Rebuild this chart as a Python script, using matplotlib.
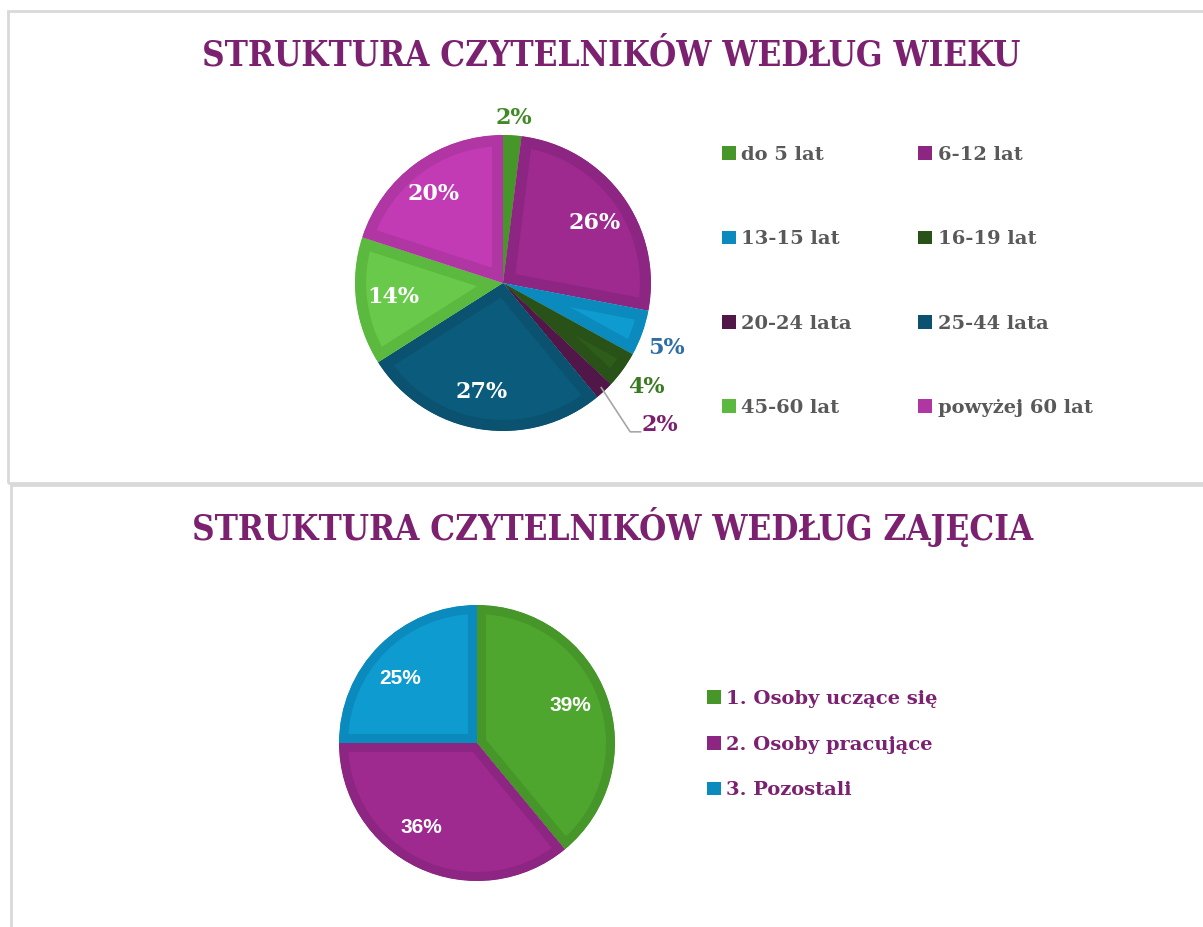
import numpy as np
import matplotlib
matplotlib.use("Agg")
import matplotlib.pyplot as plt
from matplotlib.patches import Patch, Rectangle
from matplotlib.lines import Line2D

# data
age_groups = ['do 5 lat', '6-12 lat', '13-15 lat', '16-19 lat',
              '20-24 lata', '25-44 lata', '45-60 lat', 'powyżej 60 lat']
age_shares = [2, 26, 5, 4, 2, 27, 14, 20]

job_groups = ['1. Osoby uczące się', '2. Osoby pracujące', '3. Pozostali']
job_shares = [39, 36, 25]

# colours
age_faces = ['#4fa62e', '#9e2a8f', '#0e9bd0', '#2d5c1b',
             '#5b1a52', '#0b5c7c', '#68c94a', '#c23bb4']
age_borders = ['#46962a', '#8c2682', '#0b8bbd', '#285218',
               '#511749', '#0a5270', '#5cb940', '#b036a4']
job_faces = ['#4fa62e', '#9e2a8f', '#0e9bd0']
job_borders = ['#46962a', '#8c2682', '#0b8bbd']

TITLE_COL = '#7b2170'
W, H = 1203, 927

fig = plt.figure(figsize=(W / 100, H / 100), dpi=100)
fig.patch.set_facecolor('white')

# panel frames
fig.patches.append(Rectangle((8 / W, (H - 483) / H), 1.05, (483 - 11) / H,
                             transform=fig.transFigure, fill=False,
                             edgecolor='#d9d9d9', linewidth=2))
fig.patches.append(Rectangle((10.5 / W, -0.01), 1.05, (H - 485) / H + 0.01,
                             transform=fig.transFigure, fill=False,
                             edgecolor='#d9d9d9', linewidth=2))


def pie_axes(cx, cy, r):
    return fig.add_axes([(cx - r) / W, (H - cy - r) / H, 2 * r / W, 2 * r / H])


def draw_pie(ax, shares, faces, borders, lw):
    wedges, _ = ax.pie(shares, colors=faces, startangle=90, counterclock=False,
                       wedgeprops=dict(edgecolor='none'))
    # inner border: stroke each wedge, clipped to itself
    for w, b in zip(wedges, borders):
        w.set_edgecolor(b)
        w.set_linewidth(lw)
        w.set_clip_on(True)
        w.set_clip_path(w)
    ax.set_xlim(-1, 1)
    ax.set_ylim(-1, 1)
    return wedges


def mid_xy(w, dist, shift=0):
    ang = np.deg2rad((w.theta1 + w.theta2) / 2 + shift)
    return dist * np.cos(ang), dist * np.sin(ang)


serif = 'DejaVu Serif'

# ---- top chart: age ----
fig.text(0.508, (H - 55) / H, 'STRUKTURA CZYTELNIKÓW WEDŁUG WIEKU', ha='center', va='center',
         fontsize=25, fontweight='bold', family=serif, fontstretch='condensed',
         color=TITLE_COL)

ax1 = pie_axes(503, 283, 148)
wedges1 = draw_pie(ax1, age_shares, age_faces, age_borders, 16)

lab_dist = [1.12, 0.74, 1.19, 1.2, 1.43, 0.75, 0.75, 0.76]
lab_shift = [0, -3, -2, 0, 4.6, -2, 0, 2]
lab_cols = ['#3f8a25', 'white', '#2f6ea5', '#3a7a23', '#7b1f6e', 'white', 'white', 'white']
for w, v, d, s, c in zip(wedges1, age_shares, lab_dist, lab_shift, lab_cols):
    x, y = mid_xy(w, d, s)
    if d > 1.3:
        x0, y0 = mid_xy(w, 0.97)
        ax1.add_line(Line2D([x0, x - 0.2, x - 0.13], [y0, y - 0.045, y - 0.045],
                            color='#a6a6a6', lw=1.2, clip_on=False))
    ax1.text(x, y, f'{v}%', ha='center', va='center', fontsize=16,
             fontweight='bold', family=serif, color=c)

# legend laid out row by row in two columns
order = [0, 2, 4, 6, 1, 3, 5, 7]
handles1 = [Patch(facecolor=age_borders[i], edgecolor='none') for i in order]
fig.legend(handles1, [age_groups[i] for i in order], ncol=2, frameon=False,
           loc='upper left', bbox_to_anchor=(722 / W, (H - 146) / H),
           borderpad=0, borderaxespad=0, handlelength=0.7, handleheight=0.7,
           handletextpad=0.3, labelspacing=3.41, columnspacing=3.4,
           prop=dict(family=serif, weight='bold', size=14), labelcolor='#595959')

# ---- bottom chart: occupation ----
fig.text(0.509, (H - 527) / H, 'STRUKTURA CZYTELNIKÓW WEDŁUG ZAJĘCIA', ha='center', va='center',
         fontsize=25, fontweight='bold', family=serif, fontstretch='condensed',
         color=TITLE_COL)

ax2 = pie_axes(477, 743, 138)
wedges2 = draw_pie(ax2, job_shares, job_faces, job_borders, 13)
for w, v, s in zip(wedges2, job_shares, [2, -8, 5]):
    x, y = mid_xy(w, 0.73, s)
    ax2.text(x, y, f'{v}%', ha='center', va='center', fontsize=15,
             fontweight='bold', family='Liberation Sans', color='white')

handles2 = [Patch(facecolor=c, edgecolor='none') for c in job_borders]
fig.legend(handles2, job_groups, ncol=1, frameon=False,
           loc='upper left', bbox_to_anchor=(707 / W, (H - 690) / H),
           borderpad=0, borderaxespad=0, handlelength=0.7, handleheight=0.7,
           handletextpad=0.3, labelspacing=1.42,
           prop=dict(family=serif, weight='bold', size=14), labelcolor=TITLE_COL)

fig.savefig('out.png', dpi=100)
